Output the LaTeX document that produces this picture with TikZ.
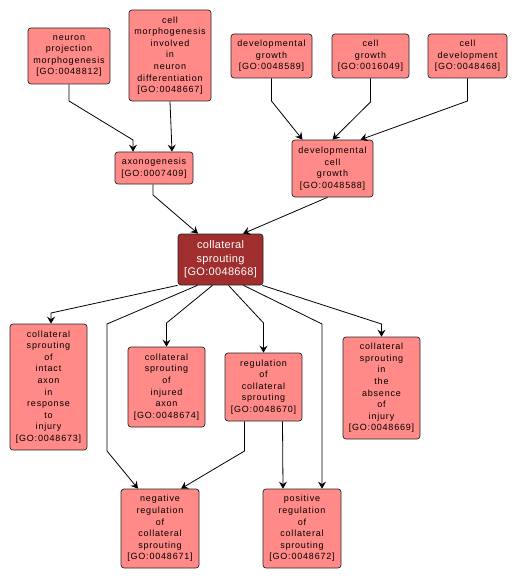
\documentclass[tikz,border=0pt]{standalone}
\usepackage{fontspec}
\setmainfont{Liberation Sans}
\newfontfamily\boxfont[LetterSpace=9]{Liberation Sans}
\newfontfamily\csfont[LetterSpace=3]{Liberation Sans}
\usetikzlibrary{arrows.meta,calc}
\definecolor{goPink}{HTML}{FF8A88}
\definecolor{goDark}{HTML}{A02E2E}
\begin{document}
\begin{tikzpicture}[x=1pt,y=-1pt,
  gobox/.style={draw=black!85, line width=0.7pt, rounded corners=3pt, fill=goPink,
    align=center, inner sep=1pt, font={\boxfont\fontsize{9}{11.6}\selectfont}},
  gomain/.style={gobox, fill=goDark, text=white, font={\csfont\fontsize{11}{13.5}\selectfont}},
  link/.style={draw=black, line width=0.8pt, -{Stealth[length=7pt,width=8pt,inset=2.5pt]}}]
\useasboundingbox (0,0) rectangle (517,580);
% top row
\node[gobox, minimum width=82pt, minimum height=56pt] (npm) at (69,56) {neuron\\projection\\morphogenesis\\{}[GO:0048812]};
\node[gobox, minimum width=82pt, minimum height=91pt] (cmn) at (170,55.5) {cell\\morphogenesis\\involved\\in\\neuron\\differentiation\\{}[GO:0048667]};
\node[gobox, minimum width=81pt, minimum height=44pt] (dg) at (271.5,56) {developmental\\growth\\{}[GO:0048589]};
\node[gobox, minimum width=77pt, minimum height=44pt] (cg) at (370.5,56) {cell\\growth\\{}[GO:0016049]};
\node[gobox, minimum width=79pt, minimum height=44pt] (cd) at (467.5,56) {cell\\development\\{}[GO:0048468]};
% second row
\node[gobox, minimum width=78pt, minimum height=32pt] (axo) at (154,168) {axonogenesis\\{}[GO:0007409]};
\node[gobox, minimum width=81pt, minimum height=57pt] (dcg) at (332.5,168.5) {developmental\\cell\\growth\\{}[GO:0048588]};
% main
\node[gomain, minimum width=85pt, minimum height=51pt] (cs) at (220.5,259.5) {collateral\\sprouting\\{}[GO:0048668]};
% children
\node[gobox, minimum width=77pt, minimum height=126pt] (intact) at (48.5,387) {collateral\\sprouting\\of\\intact\\axon\\in\\response\\to\\injury\\{}[GO:0048673]};
\node[gobox, minimum width=77pt, minimum height=80pt] (injured) at (166.5,387) {collateral\\sprouting\\of\\injured\\axon\\{}[GO:0048674]};
\node[gobox, minimum width=77pt, minimum height=68pt] (reg) at (263.5,387) {regulation\\of\\collateral\\sprouting\\{}[GO:0048670]};
\node[gobox, minimum width=77pt, minimum height=102pt] (absence) at (381.5,388) {collateral\\sprouting\\in\\the\\absence\\of\\injury\\{}[GO:0048669]};
\node[gobox, minimum width=78pt, minimum height=79pt] (neg) at (160,528.5) {negative\\regulation\\of\\collateral\\sprouting\\{}[GO:0048671]};
\node[gobox, minimum width=78pt, minimum height=79pt] (pos) at (302,528.5) {positive\\regulation\\of\\collateral\\sprouting\\{}[GO:0048672]};
% edges
\draw[link] (npm.south) -- (69,101) -- (133,140) -- ($(axo.north)+(-21,0)$);
\draw[link] (cmn.south) -- ($(axo.north)+(18,0)$);
\draw[link] ($(axo.south)+(-1,0)$) -- (153,195) -- ($(cs.north)+(-22.5,0)$);
\draw[link] (dg.south) -- (271.5,101) -- ($(dcg.north)+(-30,0)$);
\draw[link] (cg.south) -- (370.5,102) -- (dcg.north);
\draw[link] (cd.south) -- (467.5,101) -- ($(dcg.north)+(28,0)$);
\draw[link] ($(dcg.south)+(-5,0)$) -- ($(cs.north)+(22.5,0)$);
\draw[link] ($(cs.south)+(-43,0)$) -- (51,313) -- ($(intact.north)+(2.5,0)$);
\draw[link] ($(cs.south)+(-23,0)$) -- (107,324) -- (107,451) -- ($(neg.north)+(-22,0)$);
\draw[link] ($(cs.south)+(-8,0)$) -- (166.5,323) -- (injured.north);
\draw[link] ($(cs.south)+(8,0)$) -- (263.5,323) -- (reg.north);
\draw[link] ($(cs.south)+(23,0)$) -- (322,324) -- ($(pos.north)+(20,0)$);
\draw[link] ($(cs.south east)+(-1,0)$) -- (381.5,324) -- (absence.north);
\draw[link] ($(reg.south)+(-19,0)$) -- (244.5,451) -- ($(neg.north)+(21,0)$);
\draw[link] ($(reg.south)+(19,0)$) -- ($(pos.north)+(-19,0)$);
\end{tikzpicture}
\end{document}
